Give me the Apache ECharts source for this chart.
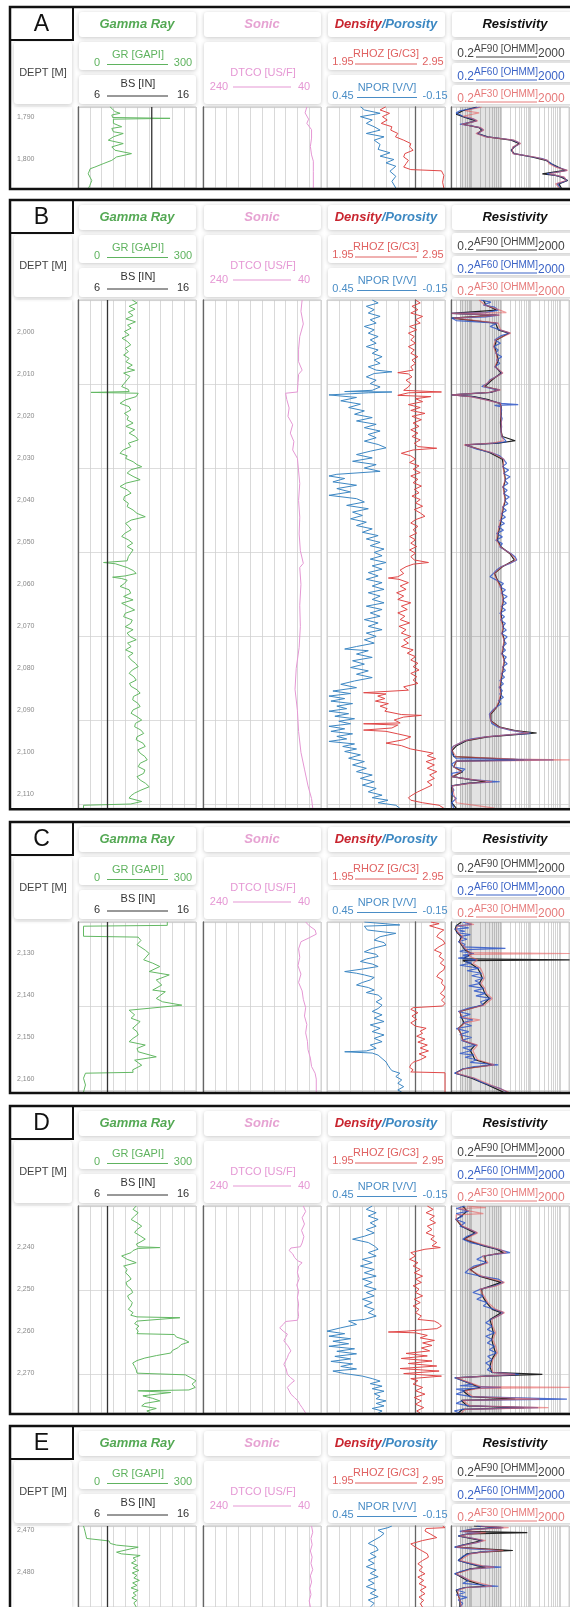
<!DOCTYPE html>
<html><head><meta charset="utf-8">
<script src="https://cdn.jsdelivr.net/npm/echarts@6/dist/echarts.min.js"></script>
<style>html,body{margin:0;padding:0;background:#fff}#c{width:570px;height:1607px}</style>
</head><body><div id="c"></div>
<script>
// ---------------- DATA ----------------
const PANEL_IDS = ['A','B','C','D','E'];
const DEPTH_TOP = [1787.6, 1992.3, 2122.6, 2230.2, 2469.0];
const DEPTH_BOTTOM = [1806.9, 2113.3, 2163.1, 2279.5, 2488.5];
const DEPTH_LABELS = [[1790,1800],[2000,2010,2020,2030,2040,2050,2060,2070,2080,2090,2100,2110],[2130,2140,2150,2160],[2240,2250,2260,2270],[2470,2480]];
const RES_GRID_VALUES = [0.2,0.3,0.4,0.5,0.6,0.7,0.8,0.9,1,2,3,4,5,6,7,8,9,10,20,30,40,50,60,70,80,90,100,200,300,400,500,600,700,800,900,1000,2000];
const RES_SHADE = [0.4, 10];

// each curve: [depth, value]
const BS_A = [[1787.6,12.25],[1806.9,12.25]];
const BS_B = [[1992.3,8.5],[2113.3,8.5]];
const BS_C = [[2122.6,8.5],[2163.1,8.5]];
const BS_D = [[2230.2,8.5],[2279.5,8.5]];
const BS_E = [[2469.0,8.5],[2488.5,8.5]];

const GR_A = [[1787.5,81],[1788.7,94],[1789.1,107],[1789.5,86],[1790.1,88],[1790.3,234],[1790.5,90],[1790.7,88],[1791.5,90],[1792.3,111],[1792.7,86],[1793.5,90],[1793.9,115],[1794.7,90],[1795.5,77],[1796.3,115],[1797.1,86],[1797.9,94],[1798.7,136],[1799.5,98],[1800.3,86],[1801.1,64],[1801.9,43],[1802.3,31],[1803.5,26],[1805.1,35],[1806.3,30],[1807.1,26]];
const DTCO_A = [[1787.6,64],[1789,67],[1790.5,61],[1791.5,64],[1793,56],[1795,56],[1797,58],[1799,56],[1800.5,53],[1803,53],[1806.9,53]];
const RHOZ_A = [[1787.5,2.45],[1788.3,2.40],[1789.1,2.48],[1789.9,2.42],[1790.7,2.46],[1791.5,2.41],[1792.3,2.50],[1793.1,2.49],[1793.9,2.55],[1794.7,2.53],[1795.5,2.60],[1796.3,2.66],[1797.1,2.65],[1797.9,2.68],[1798.7,2.61],[1799.5,2.60],[1800.3,2.64],[1801.1,2.62],[1801.9,2.60],[1802.5,2.66],[1802.8,2.92],[1803.9,2.94],[1805.5,2.93],[1806.9,2.94]];
const NPOR_A = [[1787.5,0.28],[1788.3,0.26],[1789.1,0.18],[1789.9,0.28],[1790.7,0.22],[1791.5,0.25],[1792.3,0.21],[1793.1,0.18],[1793.9,0.25],[1794.7,0.16],[1795.5,0.21],[1796.5,0.18],[1797.7,0.19],[1798.5,0.13],[1799.3,0.18],[1800.1,0.11],[1800.9,0.15],[1801.7,0.10],[1802.9,0.13],[1804.1,0.10],[1805.3,0.12],[1806.9,0.10]];
const AF90_A = [[1787.6,1.5],[1788.5,0.5],[1789.3,0.3],[1790.1,0.6],[1790.9,1.4],[1791.7,0.5],[1792.5,1.8],[1793.1,2.2],[1793.9,1.6],[1794.7,3.5],[1795.5,22],[1796.3,40],[1797.1,28],[1797.9,22],[1798.7,28],[1799.5,110],[1800.3,330],[1801.1,500],[1801.9,850],[1802.7,1500],[1803.1,600],[1803.5,250],[1803.9,700],[1804.3,1100],[1805.1,1800],[1805.9,900],[1806.9,1100]];
const AF60_A = [[1787.6,1.9],[1788.0,1.0],[1788.5,0.4],[1789.0,0.3],[1789.3,0.27],[1789.8,0.5],[1790.1,0.7],[1790.5,1.2],[1790.9,1.5],[1791.3,0.8],[1791.7,0.4],[1792.1,1.0],[1792.5,1.9],[1793.1,2.5],[1793.5,2.0],[1793.9,1.5],[1794.3,2.2],[1794.7,3.3],[1795.1,10],[1795.5,26],[1795.9,35],[1796.3,44],[1796.7,35],[1797.1,26],[1797.5,24],[1797.9,23],[1798.3,24],[1798.7,26],[1799.1,60],[1799.5,125],[1799.9,250],[1800.3,355],[1800.7,420],[1801.1,456],[1801.5,600],[1801.9,780],[1802.3,1200],[1802.7,1700],[1803.1,800],[1803.5,355],[1803.9,700],[1804.3,1300],[1804.7,1500],[1805.1,1700],[1805.5,1200],[1805.9,780],[1806.4,900],[1806.9,1000]];
const AF30_A = [[1787.6,2.2],[1788.5,0.6],[1789.0,1.8],[1789.4,1.9],[1789.8,0.5],[1790.1,0.9],[1790.9,1.6],[1791.7,0.45],[1792.5,2.0],[1793.1,2.6],[1793.9,1.4],[1794.7,3.0],[1795.5,28],[1796.3,46],[1797.1,25],[1797.9,24],[1798.7,25],[1799.5,140],[1800.3,380],[1801.1,420],[1801.9,700],[1802.7,1800],[1803.5,420],[1804.3,1400],[1805.1,1600],[1805.9,700],[1806.9,950]];

const GR_B = [[1992.3,138],[1993.0,150],[1993.8,130],[1994.5,145],[1995.2,128],[1996.0,140],[1996.8,122],[1997.5,146],[1998.3,126],[1999.0,135],[1999.8,118],[2000.6,130],[2001.4,112],[2002.2,126],[2003.0,134],[2003.8,120],[2004.6,128],[2005.4,116],[2006.2,130],[2007.0,122],[2007.8,138],[2008.5,125],[2009.0,144],[2009.7,116],[2010.5,132],[2011.3,125],[2012.1,118],[2012.9,111],[2013.6,128],[2014.1,130],[2014.3,33],[2014.5,153],[2015.3,148],[2016.1,120],[2016.9,107],[2017.7,130],[2018.5,134],[2019.3,118],[2020.0,128],[2020.8,125],[2021.6,140],[2022.4,122],[2023.2,144],[2024.0,130],[2024.8,146],[2025.6,153],[2026.4,128],[2027.2,134],[2028.0,115],[2028.8,107],[2029.4,125],[2030.0,121],[2030.8,140],[2031.5,150],[2032.0,162],[2032.7,135],[2033.5,125],[2034.3,140],[2035.1,158],[2035.9,122],[2036.7,107],[2037.5,125],[2038.3,135],[2039.1,118],[2039.9,116],[2040.7,128],[2041.5,125],[2042.3,140],[2043.1,150],[2043.9,171],[2044.7,135],[2045.5,121],[2046.3,130],[2047.0,135],[2047.8,120],[2048.6,111],[2049.4,128],[2050.2,139],[2051.0,125],[2051.8,140],[2052.6,134],[2053.4,128],[2054.4,125],[2054.8,65],[2055.1,95],[2055.4,98],[2056.0,125],[2056.7,140],[2057.4,148],[2058.0,120],[2058.3,88],[2058.6,110],[2059.0,125],[2059.8,118],[2060.5,107],[2061.3,130],[2062.1,134],[2062.9,116],[2063.7,140],[2064.5,111],[2065.3,128],[2066.1,144],[2066.9,120],[2067.7,116],[2068.5,138],[2069.3,134],[2070.1,120],[2070.8,140],[2071.6,125],[2072.4,132],[2073.2,148],[2074.0,126],[2074.8,135],[2075.6,121],[2076.4,140],[2077.2,128],[2078.0,135],[2078.8,146],[2079.6,153],[2080.4,138],[2081.2,130],[2082.0,142],[2082.8,148],[2083.6,131],[2084.3,135],[2085.1,150],[2085.9,158],[2086.7,141],[2087.5,139],[2088.3,152],[2089.1,158],[2089.9,140],[2090.7,135],[2091.5,150],[2092.3,162],[2093.1,146],[2093.9,144],[2094.7,160],[2095.5,167],[2096.3,150],[2097.0,148],[2097.8,165],[2098.6,171],[2099.4,152],[2100.2,158],[2101.0,170],[2101.8,176],[2102.6,158],[2103.4,153],[2104.2,170],[2105.0,167],[2105.8,150],[2106.6,158],[2107.4,172],[2108.2,181],[2109.0,160],[2109.7,144],[2110.3,135],[2110.9,130],[2111.7,162],[2112.3,134],[2112.6,14],[2113.3,14]];
const DTCO_B = [[1992.3,72],[1995,74],[1998,70],[2001,76],[2004,78],[2007,78],[2009,72],[2010,78],[2012,79],[2014.2,80],[2014.5,100],[2016,98],[2018,94],[2020,96],[2022,88],[2024,92],[2026,86],[2028,88],[2030,80],[2033,78],[2036,76],[2040,78],[2044,76],[2048,77],[2052,75],[2055,70],[2056,76],[2060,74],[2065,76],[2070,75],[2075,77],[2080,82],[2085,84],[2090,80],[2095,78],[2100,74],[2104,68],[2108,62],[2111,56],[2113.3,54]];
const RHOZ_B = [[1992.3,2.70],[1993.0,2.74],[1993.8,2.67],[1994.6,2.72],[1995.4,2.66],[1996.2,2.76],[1997.0,2.70],[1997.8,2.74],[1998.6,2.65],[1999.4,2.71],[2000.2,2.64],[2001.0,2.69],[2001.8,2.66],[2002.6,2.70],[2003.4,2.64],[2004.2,2.69],[2005.0,2.66],[2005.8,2.72],[2006.6,2.67],[2007.4,2.70],[2008.2,2.66],[2009.0,2.68],[2009.6,2.55],[2009.9,2.64],[2010.6,2.67],[2011.4,2.62],[2012.2,2.66],[2013.0,2.64],[2013.8,2.60],[2014.2,2.92],[2014.4,2.64],[2015.0,2.55],[2015.3,2.83],[2015.8,2.70],[2016.5,2.76],[2017.2,2.64],[2017.9,2.74],[2018.6,2.66],[2019.3,2.78],[2020.0,2.67],[2020.8,2.75],[2021.6,2.68],[2022.4,2.73],[2023.2,2.66],[2024.0,2.72],[2024.8,2.67],[2025.6,2.74],[2026.4,2.69],[2027.2,2.72],[2027.6,2.88],[2028.0,2.68],[2028.8,2.58],[2029.4,2.66],[2030.2,2.70],[2031.0,2.65],[2031.8,2.73],[2032.6,2.68],[2033.4,2.74],[2034.2,2.66],[2035.0,2.72],[2035.8,2.68],[2036.6,2.75],[2037.4,2.69],[2038.2,2.73],[2039.0,2.67],[2039.8,2.74],[2040.6,2.70],[2041.4,2.76],[2042.2,2.69],[2043.0,2.74],[2043.8,2.78],[2044.6,2.70],[2045.4,2.66],[2046.2,2.72],[2047.0,2.68],[2047.8,2.71],[2048.6,2.65],[2049.4,2.70],[2050.2,2.66],[2051.0,2.71],[2051.8,2.65],[2052.6,2.70],[2053.4,2.66],[2054.2,2.69],[2054.8,2.81],[2055.2,2.68],[2055.8,2.62],[2056.6,2.57],[2057.4,2.60],[2058.2,2.55],[2058.5,2.47],[2058.8,2.56],[2059.6,2.64],[2060.4,2.57],[2061.2,2.62],[2062.0,2.54],[2062.8,2.60],[2063.6,2.55],[2064.4,2.66],[2065.2,2.58],[2066.0,2.63],[2066.8,2.55],[2067.6,2.61],[2068.4,2.57],[2069.2,2.65],[2070.0,2.56],[2070.8,2.62],[2071.6,2.58],[2072.4,2.66],[2073.2,2.60],[2074.0,2.64],[2074.8,2.58],[2075.6,2.68],[2076.4,2.63],[2077.2,2.70],[2078.0,2.66],[2078.8,2.72],[2079.6,2.68],[2080.4,2.73],[2081.2,2.66],[2082.0,2.71],[2082.8,2.68],[2083.6,2.72],[2084.4,2.60],[2085.2,2.64],[2085.8,2.26],[2086.1,2.45],[2086.6,2.38],[2087.2,2.44],[2087.8,2.36],[2088.4,2.47],[2089.0,2.40],[2089.6,2.46],[2090.2,2.44],[2091.0,2.58],[2091.2,2.75],[2091.6,2.60],[2092.3,2.52],[2093.0,2.57],[2093.2,2.26],[2093.5,2.55],[2094.2,2.50],[2094.7,2.26],[2095.0,2.45],[2095.6,2.55],[2096.3,2.66],[2097.0,2.60],[2097.8,2.45],[2098.4,2.58],[2099.2,2.66],[2100.2,2.85],[2100.8,2.80],[2101.5,2.87],[2102.2,2.79],[2103.0,2.86],[2103.8,2.80],[2104.6,2.88],[2105.4,2.82],[2106.2,2.86],[2107.0,2.80],[2107.8,2.84],[2108.6,2.78],[2109.4,2.72],[2110.2,2.67],[2110.8,2.64],[2111.4,2.66],[2112.0,2.76],[2112.6,2.90],[2113.3,2.94]];
const NPOR_B = [[1992.3,0.22],[1993.0,0.19],[1993.8,0.25],[1994.6,0.21],[1995.4,0.24],[1996.2,0.18],[1997.0,0.23],[1997.8,0.20],[1998.6,0.26],[1999.4,0.21],[2000.2,0.24],[2001.0,0.19],[2001.8,0.23],[2002.6,0.20],[2003.4,0.25],[2004.2,0.19],[2005.0,0.22],[2005.8,0.17],[2006.6,0.21],[2007.4,0.18],[2008.2,0.24],[2009.0,0.20],[2009.4,0.12],[2009.8,0.21],[2010.6,0.25],[2011.4,0.20],[2012.2,0.23],[2013.0,0.18],[2013.8,0.22],[2014.1,0.36],[2014.2,0.12],[2014.4,0.24],[2014.9,0.44],[2015.1,0.44],[2015.5,0.30],[2016.3,0.38],[2017.1,0.28],[2017.9,0.34],[2018.7,0.26],[2019.5,0.31],[2020.3,0.22],[2021.1,0.30],[2021.9,0.20],[2022.7,0.26],[2023.5,0.18],[2024.3,0.24],[2025.1,0.20],[2025.9,0.26],[2026.7,0.19],[2027.5,0.15],[2028.3,0.23],[2029.1,0.30],[2029.9,0.22],[2030.7,0.32],[2031.5,0.20],[2032.3,0.26],[2033.1,0.18],[2033.8,0.40],[2034.2,0.44],[2034.8,0.36],[2035.6,0.42],[2036.4,0.30],[2037.2,0.40],[2038.0,0.33],[2038.8,0.44],[2039.6,0.30],[2040.4,0.26],[2041.2,0.35],[2042.0,0.24],[2042.8,0.32],[2043.6,0.27],[2044.4,0.33],[2045.2,0.25],[2046.0,0.30],[2046.8,0.22],[2047.6,0.27],[2048.4,0.19],[2049.2,0.25],[2050.0,0.18],[2050.8,0.23],[2051.6,0.16],[2052.4,0.21],[2053.2,0.17],[2054.0,0.23],[2054.8,0.15],[2055.6,0.22],[2056.4,0.17],[2057.2,0.24],[2058.0,0.19],[2058.8,0.25],[2059.6,0.17],[2060.4,0.22],[2061.2,0.16],[2062.0,0.24],[2062.8,0.18],[2063.6,0.22],[2064.4,0.16],[2065.2,0.25],[2066.0,0.17],[2066.8,0.23],[2067.6,0.18],[2068.4,0.26],[2069.2,0.19],[2070.0,0.24],[2070.8,0.17],[2071.6,0.25],[2072.4,0.20],[2073.2,0.26],[2074.0,0.21],[2074.8,0.30],[2075.4,0.36],[2075.8,0.24],[2076.6,0.30],[2077.4,0.22],[2078.2,0.32],[2079.0,0.26],[2079.8,0.33],[2080.6,0.24],[2081.4,0.30],[2082.2,0.22],[2083.0,0.31],[2083.8,0.38],[2084.6,0.30],[2085.4,0.42],[2086.0,0.33],[2086.6,0.44],[2087.2,0.36],[2087.8,0.43],[2088.4,0.32],[2089.0,0.40],[2089.6,0.35],[2090.2,0.44],[2090.8,0.34],[2091.4,0.41],[2092.0,0.31],[2092.6,0.39],[2093.2,0.33],[2093.8,0.44],[2094.4,0.36],[2095.0,0.43],[2095.6,0.32],[2096.2,0.40],[2096.8,0.35],[2097.4,0.44],[2098.0,0.31],[2098.6,0.37],[2099.2,0.30],[2099.8,0.36],[2100.6,0.28],[2101.4,0.34],[2102.2,0.26],[2103.0,0.32],[2103.8,0.25],[2104.6,0.30],[2105.4,0.22],[2106.2,0.28],[2107.0,0.21],[2107.8,0.27],[2108.6,0.20],[2109.4,0.24],[2110.2,0.17],[2110.8,0.22],[2111.4,0.14],[2112.0,0.19],[2112.6,0.10],[2113.3,0.08]];
const AF90_B = [[1992.3,2.5],[1993.5,3.0],[1994.7,7.0],[1995.5,0.21],[1995.9,7],[1996.6,0.21],[1997.8,6.5],[1999.4,8.0],[2000.2,18],[2001.8,7],[2003.4,6],[2005.0,7],[2006.6,8],[2008.2,6.5],[2009.7,10],[2011.3,5],[2012.9,2.8],[2013.7,8],[2014.3,4.5],[2014.9,0.21],[2015.3,1.2],[2016.1,4],[2016.9,9],[2017.7,10],[2019.5,10],[2021.5,9.5],[2023.5,10],[2024.8,11],[2025.8,30],[2026.4,8],[2026.8,0.6],[2027.2,0.65],[2028.6,4],[2030.2,11],[2032.0,12],[2033.6,13],[2035.2,14],[2036.8,12],[2038.4,13],[2040.0,14],[2041.6,12],[2043.2,11],[2044.8,10],[2046.3,9],[2047.9,8],[2049.5,7.5],[2051.1,10],[2052.7,20],[2054.2,28],[2055.8,11],[2057.4,6],[2059.0,7.5],[2060.6,10],[2062.1,11],[2063.7,12],[2065.3,11],[2066.9,10],[2068.5,10.5],[2070.1,12],[2071.7,11],[2073.3,13],[2074.9,12],[2076.5,11],[2078.1,13],[2079.7,12],[2081.3,11],[2082.9,10],[2084.5,9.5],[2086.1,10],[2087.7,9],[2089.3,7],[2090.9,4.5],[2092.5,4.5],[2094.0,9],[2094.8,30],[2095.4,160],[2095.7,40],[2096.3,3.5],[2097.2,0.7],[2098.5,0.3],[2099.5,0.22],[2101.0,0.25],[2101.8,60],[2102.1,0.3],[2103.5,0.25],[2104.6,0.5],[2105.8,0.22],[2106.5,0.9],[2107.0,3],[2107.4,0.7],[2108.0,0.21],[2110.0,0.22],[2112.0,0.21],[2113.3,0.3]];
const AF60_B = [[1992.3,2.0],[1992.8,4.5],[1993.5,2.5],[1994.0,6.0],[1994.7,8.0],[1995.3,3.0],[1995.5,0.21],[1995.9,8.5],[1996.3,3.0],[1996.6,0.21],[1997.2,0.3],[1997.8,7.5],[1998.6,4.2],[1999.4,9.0],[2000.2,20],[2000.8,10],[2001.8,6.0],[2002.6,9.5],[2003.4,5.5],[2004.2,8.0],[2005.0,6.5],[2005.8,10.5],[2006.6,7.0],[2007.4,9.0],[2008.2,6.0],[2009.0,8.5],[2009.7,11],[2010.5,7.0],[2011.3,4.2],[2012.1,3.5],[2012.9,2.2],[2013.4,5.0],[2013.7,9.1],[2014.3,4.0],[2014.9,0.21],[2015.3,1.0],[2016.1,3.2],[2016.9,10],[2017.2,38],[2017.4,6.0],[2017.7,9.5],[2018.5,10.4],[2019.5,9.5],[2020.5,10.8],[2021.5,10.0],[2022.5,10.4],[2023.5,9.8],[2024.8,10.4],[2025.5,13],[2026.0,15],[2026.4,6],[2026.8,0.6],[2027.2,0.6],[2027.8,1.5],[2028.6,4.5],[2029.4,9],[2030.2,12],[2031.2,15.3],[2032.0,11],[2032.8,18],[2033.6,12],[2034.4,20],[2035.2,13],[2036.0,17],[2036.8,11],[2037.6,16],[2038.4,12],[2039.2,19],[2040.0,13],[2040.8,17],[2041.6,11],[2042.4,15],[2043.2,10],[2044.0,14],[2044.8,9],[2045.5,13],[2046.3,8],[2047.1,12],[2047.9,7],[2048.7,11],[2049.5,6.5],[2050.3,11],[2051.1,9],[2051.9,14],[2052.7,22],[2053.5,30],[2054.2,34],[2055.0,20],[2055.8,10],[2056.6,7],[2057.4,5.5],[2058.2,4.2],[2059.0,7],[2059.8,12],[2060.6,9],[2061.3,14],[2062.1,10],[2062.9,16],[2063.7,11],[2064.5,15],[2065.3,10],[2066.1,14],[2066.9,9],[2067.7,13],[2068.5,9.5],[2069.3,14],[2070.1,11],[2070.9,15],[2071.7,10],[2072.5,16],[2073.3,12],[2074.1,15],[2074.9,11],[2075.7,14],[2076.5,10],[2077.3,15],[2078.1,12],[2078.9,16],[2079.7,11],[2080.5,14],[2081.3,10],[2082.1,13],[2082.9,9],[2083.7,12],[2084.5,8.5],[2085.3,11],[2086.1,9],[2086.9,12],[2087.7,8],[2088.5,10],[2089.3,6.5],[2090.1,5.0],[2090.9,4.0],[2091.7,4.2],[2092.5,4.6],[2093.1,4.8],[2094.0,8],[2094.7,20],[2095.3,60],[2095.5,100],[2095.8,20],[2096.3,3],[2096.8,1.0],[2097.2,0.6],[2097.8,0.4],[2098.5,0.25],[2099.0,0.21],[2099.5,0.21],[2100.5,0.22],[2101.5,0.3],[2101.8,600],[2102.1,0.3],[2102.8,0.21],[2103.5,0.25],[2104.0,0.6],[2104.6,0.46],[2105.0,0.21],[2105.8,0.22],[2106.5,1.0],[2107.0,9],[2107.4,0.8],[2108.0,0.21],[2109.0,0.25],[2110.0,0.21],[2111.0,0.3],[2112.0,0.21],[2113.3,0.25]];
const AF30_B = [[1992.3,1.8],[1993.5,2.8],[1994.7,9.0],[1995.3,15],[1995.5,0.21],[1995.9,9],[1996.6,0.25],[1997.8,8],[1999.4,9.5],[2000.2,21],[2001.8,6.5],[2003.4,5.5],[2005.0,6.8],[2006.6,7.5],[2008.2,6.2],[2009.7,11.5],[2011.3,4.5],[2012.9,2.5],[2013.7,9.5],[2014.3,3.8],[2014.9,0.21],[2015.3,0.9],[2016.1,3.0],[2016.9,9.5],[2017.7,9.8],[2019.5,9.6],[2021.5,10.2],[2023.5,9.9],[2024.8,10.6],[2025.8,12],[2026.4,5],[2026.8,0.55],[2027.2,0.6],[2028.6,4.8],[2030.2,12.5],[2032.0,11.5],[2033.6,12.5],[2035.2,13.5],[2036.8,11.5],[2038.4,12.5],[2040.0,13.5],[2041.6,11.5],[2043.2,10.5],[2044.8,9.5],[2046.3,8.5],[2047.9,7.5],[2049.5,7],[2051.1,9.5],[2052.7,21],[2054.2,32],[2055.8,10.5],[2057.4,5.8],[2059.0,7.2],[2060.6,9.5],[2062.1,10.5],[2063.7,11.5],[2065.3,10.5],[2066.9,9.5],[2068.5,10],[2070.1,11.5],[2071.7,10.5],[2073.3,12.5],[2074.9,11.5],[2076.5,10.5],[2078.1,12.5],[2079.7,11.5],[2081.3,10.5],[2082.9,9.5],[2084.5,9],[2086.1,9.5],[2087.7,8.5],[2089.3,6.8],[2090.9,4.2],[2092.5,4.4],[2094.0,8.5],[2094.8,25],[2095.4,90],[2095.7,25],[2096.3,3],[2097.2,0.6],[2098.5,0.25],[2099.5,0.21],[2101.0,0.3],[2101.6,30],[2101.8,2100],[2102.0,30],[2102.1,0.3],[2103.5,0.25],[2104.6,0.45],[2105.8,0.21],[2106.5,1.1],[2107.0,5],[2107.4,0.9],[2108.0,0.22],[2110.0,0.25],[2112.0,0.3],[2112.8,2],[2113.3,6]];

const GR_C = [[2122.6,227],[2123.4,227],[2123.6,14],[2126.0,14],[2126.2,153],[2127,160],[2128,150],[2129.3,171],[2130.1,181],[2131.6,167],[2132.4,190],[2133.2,208],[2134.4,181],[2135.2,232],[2136.4,199],[2137.6,213],[2138.8,190],[2139.2,222],[2140.8,199],[2141.6,215],[2142.4,264],[2143.6,130],[2144.7,144],[2145.5,135],[2146.3,158],[2147.9,139],[2148.7,150],[2149.5,153],[2150.3,140],[2151.1,130],[2151.9,171],[2152.7,150],[2153.5,153],[2154.7,199],[2155.5,144],[2156.7,162],[2157.8,139],[2158.4,140],[2158.6,19],[2159.8,14],[2161.4,19],[2163.1,14]];
const DTCO_C = [[2122.6,66],[2123.5,60],[2124.5,50],[2125.5,48],[2126.5,62],[2127.3,74],[2129,78],[2131,76],[2133,79],[2135,74],[2137,78],[2139,72],[2141,70],[2143,66],[2145,68],[2147,64],[2149,66],[2151,63],[2153,62],[2155,58],[2157,56],[2158.6,50],[2160,48],[2163.1,48]];
const RHOZ_C = [[2122.6,2.83],[2123.0,2.90],[2123.5,2.82],[2124.0,2.88],[2124.5,2.94],[2125.3,2.90],[2126.1,2.88],[2126.9,2.93],[2127.7,2.95],[2128.5,2.90],[2129.3,2.86],[2130.0,2.92],[2130.8,2.90],[2131.6,2.94],[2132.4,2.91],[2133.2,2.95],[2134.0,2.94],[2134.8,2.90],[2135.6,2.88],[2136.4,2.93],[2137.2,2.92],[2138.0,2.95],[2138.8,2.94],[2139.6,2.91],[2140.4,2.95],[2141.2,2.92],[2142.0,2.95],[2142.6,2.93],[2143.0,2.68],[2143.4,2.66],[2144.2,2.72],[2145.0,2.67],[2145.8,2.71],[2146.6,2.66],[2147.4,2.70],[2147.9,2.79],[2148.6,2.74],[2149.1,2.76],[2149.8,2.71],[2150.5,2.78],[2151.2,2.72],[2151.9,2.80],[2152.6,2.74],[2153.3,2.81],[2154.0,2.73],[2154.7,2.79],[2155.4,2.74],[2156.0,2.68],[2156.6,2.66],[2157.2,2.65],[2157.8,2.68],[2158.3,2.66],[2158.5,2.95],[2160.0,2.95],[2163.1,2.95]];
const NPOR_C = [[2122.6,0.26],[2123.3,0.08],[2123.6,0.26],[2124.5,0.245],[2125.3,0.10],[2126.1,0.18],[2126.9,0.21],[2127.5,0.16],[2128.1,0.15],[2128.9,0.22],[2129.7,0.26],[2130.3,0.20],[2130.8,0.19],[2131.4,0.25],[2132.0,0.28],[2132.6,0.22],[2133.2,0.19],[2133.8,0.27],[2134.4,0.36],[2134.8,0.30],[2135.2,0.26],[2135.8,0.21],[2136.4,0.23],[2137.0,0.27],[2137.6,0.30],[2138.2,0.24],[2138.8,0.21],[2139.4,0.25],[2140.0,0.19],[2140.8,0.17],[2141.6,0.20],[2142.4,0.17],[2143.2,0.19],[2143.9,0.22],[2144.7,0.17],[2145.5,0.21],[2146.3,0.16],[2147.1,0.23],[2147.9,0.18],[2148.7,0.22],[2149.5,0.16],[2150.3,0.21],[2151.1,0.17],[2151.9,0.23],[2152.7,0.20],[2153.3,0.25],[2153.5,0.36],[2153.8,0.22],[2154.3,0.19],[2155.1,0.17],[2155.9,0.15],[2156.7,0.14],[2157.4,0.13],[2158.0,0.12],[2158.6,0.08],[2159.4,0.10],[2160.2,0.07],[2161.0,0.09],[2161.8,0.06],[2162.6,0.09],[2163.1,0.07]];
const AF90_C = [[2122.6,0.45],[2123.5,0.3],[2124.3,0.28],[2125.1,0.32],[2126.1,0.45],[2127.3,0.38],[2128.5,0.5],[2129.3,0.6],[2130.1,1.0],[2130.8,0.7],[2131.4,0.5],[2131.6,2100],[2131.8,0.5],[2132.4,0.9],[2133.6,1.6],[2134.8,2.0],[2136.0,2.3],[2137.2,1.8],[2138.4,2.4],[2139.6,2.8],[2140.8,4.0],[2142.4,2.3],[2143.9,0.4],[2145.3,0.45],[2146.6,0.55],[2148.0,0.35],[2149.4,0.45],[2150.8,0.5],[2151.9,1.3],[2153.2,0.9],[2154.3,1.1],[2155.4,1.3],[2156.6,5.0],[2157.6,0.5],[2158.6,0.28],[2159.8,1.0],[2161.4,3.5],[2163.1,12]];
const AF60_C = [[2122.6,0.5],[2123.2,1.0],[2123.5,0.3],[2124.0,0.8],[2124.3,0.26],[2124.8,0.6],[2125.1,0.3],[2125.6,0.9],[2126.1,0.4],[2126.7,0.7],[2127.3,0.35],[2127.9,0.6],[2128.5,0.5],[2128.9,14],[2129.2,0.6],[2129.6,0.4],[2130.1,1.2],[2130.5,0.5],[2130.8,0.8],[2131.2,0.35],[2131.6,1.5],[2132.0,0.6],[2132.4,1.0],[2132.9,0.4],[2133.6,1.8],[2134.2,0.7],[2134.8,2.2],[2135.4,1.0],[2136.0,2.5],[2136.6,1.3],[2137.2,2.0],[2137.8,0.8],[2138.4,2.6],[2139.0,1.2],[2139.6,3.0],[2140.2,1.4],[2140.8,4.5],[2141.6,2.0],[2142.4,2.5],[2143.1,0.8],[2143.9,0.35],[2144.6,0.9],[2145.3,0.4],[2145.9,1.1],[2146.6,0.5],[2147.3,1.0],[2148.0,0.3],[2148.7,0.8],[2149.4,0.4],[2150.1,1.0],[2150.8,0.45],[2151.5,0.9],[2151.9,1.5],[2152.5,0.5],[2153.2,1.0],[2153.9,0.4],[2154.3,1.2],[2154.8,0.6],[2155.4,1.5],[2156.0,0.9],[2156.6,8.0],[2157.0,1.2],[2157.6,0.5],[2158.2,0.35],[2158.6,0.26],[2159.2,0.6],[2159.8,1.2],[2160.6,2.0],[2161.4,4.0],[2162.2,9],[2163.1,16]];
const AF30_C = [[2122.6,0.6],[2123.2,1.2],[2123.5,0.35],[2124.3,0.3],[2125.1,0.35],[2126.1,0.5],[2127.3,0.4],[2128.5,0.55],[2129.3,0.7],[2129.9,0.8],[2130.1,2100],[2130.3,0.8],[2130.8,0.9],[2131.6,1.6],[2132.4,1.1],[2133.6,2.0],[2134.8,2.4],[2136.0,2.7],[2137.2,2.1],[2138.4,2.8],[2139.6,3.2],[2140.8,5.0],[2142.4,2.7],[2143.9,0.38],[2145.3,0.5],[2145.9,1.9],[2146.6,0.6],[2148.0,0.35],[2149.4,0.45],[2150.8,0.5],[2151.9,1.6],[2153.2,1.1],[2154.3,1.3],[2155.4,1.6],[2156.6,6.0],[2157.6,0.55],[2158.6,0.3],[2159.8,1.3],[2161.4,4.5],[2163.1,18]];

const GR_D = [[2230.2,148],[2231.0,140],[2231.8,153],[2232.6,144],[2233.4,135],[2234.2,150],[2235.0,162],[2235.8,150],[2236.5,144],[2237.3,158],[2238.1,171],[2238.7,160],[2239.3,148],[2239.9,153],[2240.1,208],[2240.3,153],[2240.8,140],[2241.3,135],[2242.1,111],[2242.9,125],[2243.7,148],[2244.5,116],[2245.3,125],[2246.1,121],[2246.9,130],[2247.6,135],[2248.4,122],[2249.2,125],[2250.0,135],[2250.8,139],[2251.6,126],[2252.4,130],[2253.2,138],[2254.0,135],[2254.8,128],[2255.6,140],[2256.2,134],[2256.6,150],[2256.8,259],[2257.0,255],[2257.6,150],[2258.2,144],[2258.8,155],[2259.4,148],[2260.0,153],[2260.6,150],[2260.8,245],[2261.4,250],[2262.0,270],[2262.6,282],[2263.2,262],[2263.9,255],[2264.6,240],[2265.2,236],[2265.8,200],[2266.4,170],[2267.0,150],[2267.6,139],[2268.4,144],[2269.2,148],[2270.0,150],[2270.4,273],[2271.0,285],[2271.8,300],[2272.6,290],[2273.4,298],[2274.0,282],[2274.2,153],[2274.6,236],[2275.4,165],[2276.0,190],[2276.6,208],[2277.2,170],[2277.8,162],[2278.4,199],[2279.0,175],[2279.5,185]];
const DTCO_D = [[2230.2,70],[2231.5,66],[2233,72],[2234.5,68],[2236,73],[2237.5,69],[2239,72],[2239.9,75],[2240.2,91],[2240.8,94],[2241.6,88],[2242.4,85],[2243.2,80],[2243.7,72],[2244.5,78],[2246,80],[2247.5,77],[2249,81],[2250.5,78],[2252,80],[2253.5,78],[2255,79],[2256.5,78],[2257.4,80],[2257.7,100],[2258.4,104],[2259.2,110],[2260,104],[2260.7,97],[2261.5,100],[2262.3,103],[2263.5,96],[2264.7,91],[2265.5,95],[2266.3,97],[2267.1,100],[2267.9,103],[2269,99],[2270.3,97],[2271,92],[2271.8,85],[2272.6,92],[2273.4,97],[2274.2,94],[2275,91],[2275.8,85],[2276.6,79],[2277.4,76],[2278.2,72],[2279.5,66]];
const RHOZ_D = [[2230.2,2.80],[2231.0,2.85],[2231.8,2.79],[2232.6,2.86],[2233.4,2.82],[2234.2,2.87],[2235.0,2.80],[2235.8,2.84],[2236.6,2.79],[2237.4,2.86],[2238.1,2.83],[2238.9,2.88],[2239.7,2.84],[2240.1,2.91],[2240.5,2.78],[2241.3,2.66],[2242.1,2.70],[2242.9,2.65],[2243.7,2.72],[2244.5,2.68],[2245.3,2.74],[2246.1,2.69],[2246.9,2.76],[2247.6,2.70],[2248.4,2.75],[2249.2,2.68],[2250.0,2.73],[2250.8,2.70],[2251.6,2.76],[2252.4,2.69],[2253.2,2.74],[2254.0,2.68],[2254.8,2.73],[2255.6,2.70],[2256.4,2.75],[2257.2,2.72],[2257.6,2.86],[2258.2,2.90],[2258.8,2.92],[2259.4,2.88],[2260.0,2.62],[2260.2,2.47],[2260.4,2.70],[2261.0,2.80],[2261.6,2.74],[2262.2,2.86],[2262.8,2.76],[2263.4,2.84],[2264.0,2.75],[2264.7,2.82],[2265.3,2.62],[2265.9,2.80],[2266.5,2.58],[2267.1,2.84],[2267.7,2.64],[2268.3,2.88],[2268.9,2.57],[2269.5,2.90],[2270.1,2.60],[2270.7,2.92],[2271.3,2.66],[2271.8,2.72],[2272.6,2.68],[2273.4,2.76],[2274.2,2.70],[2275.0,2.78],[2275.8,2.69],[2276.6,2.75],[2277.4,2.70],[2278.2,2.77],[2279.0,2.71],[2279.5,2.74]];
const NPOR_D = [[2230.2,0.22],[2231.0,0.25],[2231.8,0.20],[2232.6,0.24],[2233.4,0.19],[2234.2,0.23],[2235.0,0.20],[2235.8,0.25],[2236.6,0.21],[2237.4,0.26],[2238.1,0.32],[2238.9,0.24],[2239.7,0.21],[2240.5,0.19],[2241.3,0.24],[2242.1,0.20],[2242.9,0.27],[2243.7,0.22],[2244.5,0.28],[2245.3,0.21],[2246.1,0.26],[2246.9,0.20],[2247.6,0.27],[2248.4,0.22],[2249.2,0.26],[2250.0,0.20],[2250.8,0.25],[2251.6,0.21],[2252.4,0.27],[2253.2,0.22],[2254.0,0.26],[2254.8,0.21],[2255.6,0.24],[2256.4,0.20],[2257.2,0.26],[2257.6,0.34],[2258.4,0.30],[2259.2,0.38],[2260.0,0.45],[2260.6,0.36],[2261.2,0.44],[2261.8,0.33],[2262.4,0.42],[2263.0,0.34],[2263.6,0.44],[2264.2,0.31],[2264.8,0.40],[2265.4,0.30],[2266.0,0.41],[2266.6,0.33],[2267.2,0.43],[2267.8,0.32],[2268.4,0.38],[2269.0,0.30],[2269.5,0.42],[2270.1,0.36],[2270.7,0.27],[2271.3,0.22],[2271.9,0.18],[2272.5,0.23],[2273.1,0.17],[2273.7,0.22],[2274.3,0.16],[2274.9,0.21],[2275.5,0.18],[2276.1,0.20],[2276.6,0.15],[2277.2,0.20],[2277.8,0.16],[2278.4,0.22],[2279.0,0.17],[2279.5,0.19]];
const AF90_D = [[2230.2,0.5],[2231.4,0.7],[2232.6,0.45],[2233.4,0.3],[2235.0,0.45],[2236.6,1.3],[2238.1,0.55],[2239.7,2.5],[2240.5,7],[2241.3,12],[2242.1,2.8],[2243.7,3.0],[2245.3,0.9],[2246.9,1.8],[2248.4,10],[2250.0,2.2],[2251.6,2.3],[2253.2,3.2],[2254.8,5],[2255.6,10],[2257.2,4.2],[2258.8,4.8],[2260.4,5.5],[2262.0,4.8],[2263.6,5.5],[2265.2,6.5],[2266.8,4.8],[2268.4,4.2],[2269.8,4.8],[2270.3,250],[2270.7,3],[2271.1,0.28],[2272.6,1.0],[2273.4,2],[2274.2,0.5],[2275.6,0.9],[2276.2,30],[2276.5,0.45],[2277.8,0.7],[2278.2,60],[2278.6,0.5],[2279.5,0.35]];
const AF60_D = [[2230.2,0.6],[2230.8,0.3],[2231.4,0.8],[2232.0,0.3],[2232.6,0.5],[2233.4,0.28],[2234.2,0.6],[2235.0,0.4],[2235.8,0.9],[2236.6,1.5],[2237.4,0.7],[2238.1,0.5],[2238.9,0.9],[2239.7,3],[2240.5,8],[2241.3,20],[2241.7,6],[2242.1,2.5],[2242.9,1.5],[2243.7,3.4],[2244.5,1.2],[2245.3,0.8],[2246.1,0.6],[2246.9,2],[2247.6,8],[2248.4,12],[2249.2,6],[2250.0,2],[2250.8,1.1],[2251.6,2.5],[2252.4,1.5],[2253.2,3.4],[2254.0,2.5],[2254.8,6],[2255.6,12],[2256.4,8],[2257.2,4.5],[2258.0,3],[2258.8,5],[2259.6,3.4],[2260.4,6],[2261.2,3],[2262.0,5],[2262.8,3.4],[2263.6,6],[2264.4,4],[2265.2,7],[2266.0,3.5],[2266.8,5],[2267.6,3],[2268.4,4.5],[2269.2,3.4],[2269.8,5],[2270.3,40],[2270.7,3],[2271.1,0.26],[2271.8,0.5],[2272.6,1.1],[2273.0,0.4],[2273.4,10],[2273.8,0.3],[2274.2,0.6],[2275.0,0.3],[2275.6,1.0],[2276.2,1700],[2276.5,0.5],[2277.2,0.3],[2277.8,0.8],[2278.2,180],[2278.6,0.5],[2279.0,0.26],[2279.5,0.4]];
const AF30_D = [[2230.2,0.7],[2230.6,3],[2230.8,0.35],[2231.4,0.9],[2232.0,2.5],[2232.3,0.3],[2233.4,0.3],[2235.0,0.5],[2236.6,1.6],[2238.1,0.6],[2239.7,3.2],[2240.5,9],[2241.3,15],[2242.1,2.3],[2243.7,3.6],[2245.3,0.8],[2246.9,2.2],[2248.4,13],[2249.2,7],[2250.0,1.9],[2251.6,2.6],[2253.2,3.6],[2254.8,6.5],[2255.6,13],[2257.2,4.8],[2258.8,5.2],[2260.4,6.5],[2262.0,5.2],[2263.6,6.5],[2265.2,7.5],[2266.8,5.2],[2268.4,4.8],[2269.8,5.2],[2270.3,30],[2270.7,3.2],[2271.1,0.3],[2272.6,1.2],[2273.2,2],[2273.4,2100],[2273.6,2],[2274.2,0.6],[2275.6,1.1],[2276.2,200],[2276.5,0.5],[2277.8,0.9],[2278.2,400],[2278.6,0.6],[2279.5,0.45]];

const GR_E = [[2469.0,14],[2469.6,16],[2470.4,18],[2471.2,20],[2472.0,22],[2472.4,24],[2472.6,79],[2473.2,82],[2473.6,98],[2474.1,153],[2474.6,130],[2475.3,98],[2475.7,110],[2476.1,158],[2476.7,140],[2477.3,148],[2477.9,136],[2478.5,152],[2479.1,140],[2479.7,155],[2480.3,138],[2480.9,150],[2481.5,142],[2482.1,156],[2482.7,139],[2483.3,150],[2483.9,135],[2484.5,153],[2485.1,140],[2485.7,148],[2486.3,137],[2486.9,150],[2487.5,142],[2488.5,148]];
const DTCO_E = [[2469.0,56],[2470.5,54],[2472,57],[2473.5,55],[2475,58],[2476.5,55],[2478,57],[2479.5,54],[2481,58],[2482.5,56],[2484,59],[2485.5,57],[2487,60],[2488.5,58]];
const RHOZ_E = [[2469.0,2.93],[2469.4,2.95],[2469.6,2.79],[2470.2,2.78],[2471.0,2.83],[2471.8,2.88],[2472.5,2.76],[2473.3,2.66],[2474.1,2.70],[2474.9,2.75],[2475.7,2.80],[2476.5,2.81],[2477.3,2.76],[2478.1,2.72],[2478.9,2.76],[2479.7,2.73],[2480.5,2.78],[2481.3,2.72],[2482.1,2.77],[2482.9,2.73],[2483.7,2.79],[2484.5,2.74],[2485.3,2.78],[2486.1,2.73],[2486.9,2.77],[2487.7,2.74],[2488.5,2.76]];
const NPOR_E = [[2469.0,0.12],[2469.4,0.14],[2470.0,0.19],[2470.8,0.16],[2471.6,0.18],[2472.4,0.21],[2473.2,0.24],[2474.0,0.20],[2474.8,0.19],[2475.6,0.23],[2476.4,0.20],[2477.2,0.24],[2478.0,0.21],[2478.8,0.25],[2479.6,0.20],[2480.4,0.23],[2481.2,0.19],[2482.0,0.24],[2482.8,0.21],[2483.6,0.25],[2484.4,0.20],[2485.2,0.23],[2486.0,0.19],[2486.8,0.24],[2487.6,0.21],[2488.5,0.23]];
const AF90_E = [[2469.0,1.2],[2469.4,10],[2469.8,1.0],[2470.3,0.5],[2470.6,77],[2470.9,0.8],[2471.4,0.35],[2472.5,2.2],[2473.6,0.5],[2474.1,0.28],[2474.9,25],[2475.3,2],[2475.7,0.7],[2477.3,0.35],[2478.6,1.6],[2478.9,3],[2479.3,0.9],[2480.5,0.28],[2482.1,0.7],[2483.5,3],[2483.8,0.6],[2484.4,0.3],[2485.6,0.35],[2486.8,0.4],[2488.5,0.4]];
const AF60_E = [[2469.0,1.5],[2469.4,12],[2469.8,1.0],[2470.3,0.4],[2470.6,2],[2471.0,0.6],[2471.4,0.35],[2471.9,1.0],[2472.5,2.5],[2473.0,1.5],[2473.6,0.5],[2474.1,0.26],[2474.5,1.0],[2474.9,8],[2475.3,2],[2475.7,0.8],[2476.3,0.5],[2477.3,0.35],[2478.0,0.8],[2478.6,2.0],[2478.9,10],[2479.3,1.0],[2480.0,0.4],[2480.5,0.26],[2481.2,0.5],[2482.1,0.8],[2482.8,0.5],[2483.5,8],[2483.8,0.6],[2484.4,0.3],[2485.0,0.6],[2485.6,0.3],[2486.2,0.7],[2486.8,0.35],[2487.6,0.5],[2488.5,0.4]];
const AF30_E = [[2469.0,2],[2469.4,18],[2469.8,1.4],[2470.3,0.45],[2470.6,3],[2471.0,0.7],[2471.4,0.4],[2472.5,3.0],[2473.6,0.6],[2474.1,0.3],[2474.9,12],[2475.3,2.5],[2475.7,0.9],[2477.3,0.4],[2478.6,2.4],[2478.9,6],[2479.3,1.1],[2480.5,0.3],[2482.1,0.9],[2483.5,5],[2483.8,0.7],[2484.4,0.35],[2485.6,0.35],[2486.8,0.4],[2488.5,0.45]];

// ---------------- LAYOUT / STYLE ----------------
const FONT = "'Liberation Sans', Arial, Helvetica, sans-serif";
const PANEL_TOP_PX = [7, 200, 822, 1106, 1426];
const HEADER_H = 100;
const PX_PER_M = 4.2;
const TRACK_LEFT = [78, 203, 327, 451];
const TRACK_W = 118;
const GRID_DEPTH_STEP = 20;
const C = {
  gr:'#63b863', grText:'#5fb35f', grTitle:'#55a955',
  bs:'#333333',
  dt:'#e597d4', dtTitle:'#e6a2d2',
  rho:'#e04848', rhoText:'#e06262', rhoTitle:'#c8252f',
  nphi:'#3d87c3', nphiText:'#4a8dc6', nphiTitle:'#3c88c2',
  af90:'#222222', af60:'#2f57c8', af30:'#e65c5c',
  af90Text:'#444444', af60Text:'#3b63c6', af30Text:'#e67a7a'
};

const CURVES = {
  A:{GR:GR_A,BS:BS_A,DTCO:DTCO_A,RHOZ:RHOZ_A,NPOR:NPOR_A,AF90:AF90_A,AF60:AF60_A,AF30:AF30_A},
  B:{GR:GR_B,BS:BS_B,DTCO:DTCO_B,RHOZ:RHOZ_B,NPOR:NPOR_B,AF90:AF90_B,AF60:AF60_B,AF30:AF30_B},
  C:{GR:GR_C,BS:BS_C,DTCO:DTCO_C,RHOZ:RHOZ_C,NPOR:NPOR_C,AF90:AF90_C,AF60:AF60_C,AF30:AF30_C},
  D:{GR:GR_D,BS:BS_D,DTCO:DTCO_D,RHOZ:RHOZ_D,NPOR:NPOR_D,AF90:AF90_D,AF60:AF60_D,AF30:AF30_D},
  E:{GR:GR_E,BS:BS_E,DTCO:DTCO_E,RHOZ:RHOZ_E,NPOR:NPOR_E,AF90:AF90_E,AF60:AF60_E,AF30:AF30_E}
};

const fmtDepth = v => String(v).replace(/\B(?=(\d{3})+(?!\d))/g, ',');
const option = {animation:false, backgroundColor:'#fff', grid:[], xAxis:[], yAxis:[], series:[], graphic:{elements:[]}};
const VSPLIT = {show:true, lineStyle:{color:'#cfcfcf', width:0.8}};
const hiddenX = (gridIndex, extra) => Object.assign({type:'value', gridIndex, position:'top', axisLine:{show:false}, axisTick:{show:false}, axisLabel:{show:false}, splitLine:{show:false}}, extra);
const curve = (data, xi, yi, color, w, extra) => Object.assign({type:'line', data:data.map(p => [p[1], p[0]]), xAxisIndex:xi, yAxisIndex:yi, showSymbol:false, symbol:'none', silent:true, clip:true, lineStyle:{color, width:w}, itemStyle:{color}, z:3}, extra || {});

const G = option.graphic.elements;
const txt = (x, y, text, o) => ({type:'text', x, y, z:20, style:Object.assign({text, fontFamily:FONT, fontSize:11, fill:'#333', align:'center', verticalAlign:'middle', textAlign:'center', textVerticalAlign:'middle'}, o || {})});
const ln = (x1, y1, x2, y2, color, w) => ({type:'line', z:20, shape:{x1, y1, x2, y2}, style:{stroke:color, lineWidth:w || 1}});
const card = (x, y, w, h) => ({type:'rect', z:1, shape:{x, y, width:w, height:h, r:3}, style:{fill:'#fff', shadowBlur:4, shadowColor:'rgba(0,0,0,0.22)', shadowOffsetY:1, shadowOffsetX:0}});

PANEL_IDS.forEach((pid, i) => {
  const T = PANEL_TOP_PX[i];
  const dTop = DEPTH_TOP[i], dBot = DEPTH_BOTTOM[i];
  const pt = T + HEADER_H, ph = (dBot - dTop) * PX_PER_M;
  const g = option.grid.length;
  option.grid.push({left:14, top:pt, width:58, height:ph});
  for (let k = 0; k < 4; k++) option.grid.push({left:TRACK_LEFT[k], top:pt, width:TRACK_W, height:ph, show:true, borderColor:'#cfcfcf', borderWidth:1, backgroundColor:'#fff'});
  const y0 = option.yAxis.length;
  option.yAxis.push({type:'value', gridIndex:g, inverse:true, min:dTop, max:dBot, axisLine:{show:false}, axisTick:{show:false}, splitLine:{show:false},
    axisLabel:{inside:true, customValues:DEPTH_LABELS[i], formatter:fmtDepth, fontSize:7, color:'#8a8a8a', fontFamily:FONT, margin:3}});
  for (let k = 0; k < 4; k++) option.yAxis.push({type:'value', gridIndex:g + 1 + k, inverse:true, min:dTop, max:dBot, interval:GRID_DEPTH_STEP,
    axisLine:{show:true, lineStyle:{color:'#666', width:1.3}}, axisTick:{show:false}, axisLabel:{show:false}, splitLine:{show:true, lineStyle:{color:'#d4d4d4', width:0.8}}});
  const x0 = option.xAxis.length;
  option.xAxis.push(hiddenX(g, {min:0, max:1}));
  option.xAxis.push(hiddenX(g + 1, {min:0, max:300, interval:30, splitLine:VSPLIT}));
  option.xAxis.push(hiddenX(g + 1, {min:6, max:16}));
  option.xAxis.push(hiddenX(g + 2, {min:40, max:240, interval:20, inverse:true, splitLine:VSPLIT}));
  option.xAxis.push(hiddenX(g + 3, {min:1.95, max:2.95, interval:0.1, splitLine:VSPLIT}));
  option.xAxis.push(hiddenX(g + 3, {min:-0.15, max:0.45, inverse:true}));
  option.xAxis.push({type:'log', logBase:10, gridIndex:g + 4, position:'top', min:0.2, max:2000, axisLine:{show:false}, axisLabel:{show:false},
    axisTick:{show:false, customValues:RES_GRID_VALUES}, splitLine:{show:true, lineStyle:{color:'#c8c8c8', width:0.8}}});

  const cv = CURVES[pid];
  option.series.push(curve(cv.GR, x0 + 1, y0 + 1, C.gr, 1));
  option.series.push(curve(cv.BS, x0 + 2, y0 + 1, C.bs, 1.3));
  option.series.push(curve(cv.DTCO, x0 + 3, y0 + 2, C.dt, 1));
  option.series.push(curve(cv.NPOR, x0 + 5, y0 + 3, C.nphi, 1));
  option.series.push(curve(cv.RHOZ, x0 + 4, y0 + 3, C.rho, 1));
  option.series.push(curve(cv.AF90, x0 + 6, y0 + 4, C.af90, 1.2, {markArea:{silent:true, itemStyle:{color:'rgba(0,0,0,0.11)'}, data:[[{xAxis:RES_SHADE[0]}, {xAxis:RES_SHADE[1]}]]}}));
  option.series.push(curve(cv.AF60, x0 + 6, y0 + 4, C.af60, 1.2, {lineStyle:{color:C.af60, width:1.2, opacity:0.85}}));
  option.series.push(curve(cv.AF30, x0 + 6, y0 + 4, C.af30, 1.2, {lineStyle:{color:C.af30, width:1.2, opacity:0.6}}));

  // ---- header graphics ----
  G.push({type:'rect', z:30, shape:{x:10, y:T, width:580, height:HEADER_H + ph + 1}, style:{fill:'transparent', stroke:'#111', lineWidth:2.5}});
  G.push({type:'rect', z:30, shape:{x:10, y:T, width:63, height:33}, style:{fill:'transparent', stroke:'#111', lineWidth:2}});
  G.push(txt(41.5, T + 17.5, pid, {fontSize:23, fill:'#111'}));
  G.push(card(14, T + 35, 58, 62));
  G.push(txt(43, T + 66, 'DEPT [M]', {fill:'#444'}));
  G.push({type:'rect', z:0, shape:{x:14, y:pt, width:58, height:ph}, style:{fill:'#fff', shadowBlur:3, shadowColor:'rgba(0,0,0,0.12)', shadowOffsetX:1}});
  const titleStyle = {fontSize:13, fontWeight:'bold', fontStyle:'italic'};
  TRACK_LEFT.forEach((l, k) => G.push(card(l + 1, T + 5, k === 3 ? 130 : 117, 25)));
  G.push(txt(137, T + 17.5, 'Gamma Ray', Object.assign({fill:C.grTitle}, titleStyle)));
  G.push(txt(262, T + 17.5, 'Sonic', Object.assign({fill:C.dtTitle}, titleStyle)));
  G.push(txt(386, T + 17.5, '', Object.assign({text:'{d|Density}{p|/Porosity}', rich:{d:Object.assign({fill:C.rhoTitle, fontFamily:FONT}, titleStyle), p:Object.assign({fill:C.nphiTitle, fontFamily:FONT}, titleStyle)}}, titleStyle)));
  G.push(txt(515, T + 17.5, 'Resistivity', Object.assign({fill:'#111'}, titleStyle)));
  // GR / BS
  G.push(card(79, T + 35, 117, 28));
  G.push(txt(97, T + 56, '0', {fill:C.grText}));
  G.push(txt(138, T + 48, 'GR [GAPI]', {fill:C.grText}));
  G.push(ln(107, T + 57.5, 168, T + 57.5, C.grText, 1));
  G.push(txt(183, T + 56, '300', {fill:C.grText}));
  G.push(card(79, T + 68, 117, 29));
  G.push(txt(97, T + 88, '6', {fill:'#333'}));
  G.push(txt(138, T + 77, 'BS [IN]', {fill:'#333'}));
  G.push(ln(107, T + 89, 168, T + 89, '#333', 1));
  G.push(txt(183, T + 88, '16', {fill:'#333'}));
  // DTCO
  G.push(card(204, T + 35, 117, 62));
  G.push(txt(263, T + 66, 'DTCO [US/F]', {fill:C.dt}));
  G.push(txt(219, T + 80, '240', {fill:C.dt}));
  G.push(ln(233, T + 80, 291, T + 80, C.dt, 1));
  G.push(txt(304, T + 80, '40', {fill:C.dt}));
  // RHOZ / NPOR
  G.push(card(328, T + 35, 117, 28));
  G.push(txt(343, T + 55, '1.95', {fill:C.rhoText}));
  G.push(txt(386, T + 47, 'RHOZ [G/C3]', {fill:C.rhoText}));
  G.push(ln(355, T + 57, 417, T + 57, C.rhoText, 1));
  G.push(txt(433, T + 55, '2.95', {fill:C.rhoText}));
  G.push(card(328, T + 68, 117, 29));
  G.push(txt(343, T + 89, '0.45', {fill:C.nphiText}));
  G.push(txt(387, T + 81, 'NPOR [V/V]', {fill:C.nphiText}));
  G.push(ln(357, T + 90.5, 417, T + 90.5, C.nphiText, 1));
  G.push(txt(435, T + 89, '-0.15', {fill:C.nphiText}));
  // resistivity
  [['AF90 [OHMM]', C.af90Text, 33, 20], ['AF60 [OHMM]', C.af60Text, 56, 19], ['AF30 [OHMM]', C.af30Text, 78, 19]].forEach(r => {
    const yy = T + r[2];
    G.push(card(452, yy, 130, r[3]));
    G.push(txt(474, yy + 14, '0.2', {fill:r[1], fontSize:12, align:'right', textAlign:'right'}));
    G.push(txt(506, yy + 9, r[0], {fill:r[1], fontSize:10}));
    G.push(ln(476, yy + 17, 537, yy + 17, r[1], 1));
    G.push(txt(538, yy + 14, '2000', {fill:r[1], fontSize:12, align:'left', textAlign:'left'}));
  });
});

const chart = echarts.init(document.getElementById('c'), null, {renderer:'canvas', width:570, height:1607});
chart.setOption(option);
</script></body></html>
